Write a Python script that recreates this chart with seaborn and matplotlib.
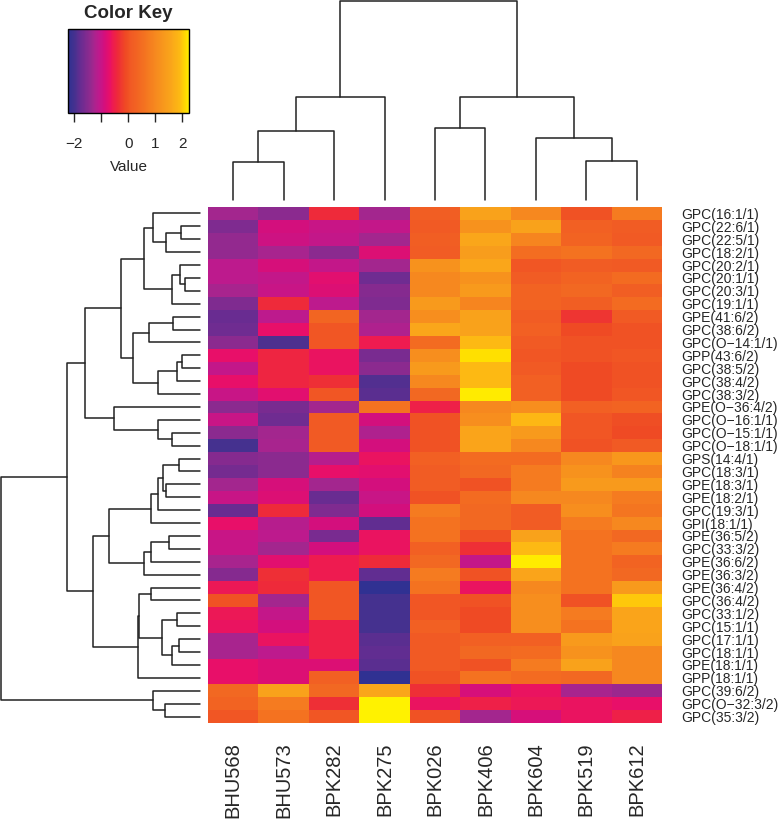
import numpy as np
import pandas as pd
import matplotlib
matplotlib.use('Agg')
import matplotlib.pyplot as plt
from matplotlib.colors import LinearSegmentedColormap
import seaborn as sns

sns.set_style('white')
plt.rcParams['font.family'] = ['Liberation Sans', 'DejaVu Sans']

# samples (columns) and lipids (rows), in dendrogram order
samples = ['BHU568', 'BHU573', 'BPK282', 'BPK275', 'BPK026',
           'BPK406', 'BPK604', 'BPK519', 'BPK612']
lipids = ['GPC(16:1/1)', 'GPC(22:6/1)', 'GPC(22:5/1)', 'GPC(18:2/1)',
          'GPC(20:2/1)', 'GPC(20:1/1)', 'GPC(20:3/1)', 'GPC(19:1/1)',
          'GPE(41:6/2)', 'GPC(38:6/2)', 'GPC(O−14:1/1)', 'GPP(43:6/2)',
          'GPC(38:5/2)', 'GPC(38:4/2)', 'GPC(38:3/2)', 'GPE(O−36:4/2)',
          'GPC(O−16:1/1)', 'GPC(O−15:1/1)', 'GPC(O−18:1/1)', 'GPS(14:4/1)',
          'GPC(18:3/1)', 'GPE(18:3/1)', 'GPE(18:2/1)', 'GPC(19:3/1)',
          'GPI(18:1/1)', 'GPE(36:5/2)', 'GPC(33:3/2)', 'GPE(36:6/2)',
          'GPE(36:3/2)', 'GPE(36:4/2)', 'GPC(36:4/2)', 'GPC(33:1/2)',
          'GPC(15:1/1)', 'GPC(17:1/1)', 'GPC(18:1/1)', 'GPE(18:1/1)',
          'GPP(18:1/1)', 'GPC(39:6/2)', 'GPC(O−32:3/2)', 'GPC(35:3/2)']

# row-scaled values
values = [
    [-1.30, -1.45, -0.40, -1.30, 0.20, 1.50, 1.00, 0.00, 0.75],
    [-1.55, -0.90, -1.00, -1.05, 0.10, 1.20, 1.50, 0.25, 0.15],
    [-1.40, -0.95, -1.05, -1.30, 0.20, 1.60, 0.95, 0.30, 0.10],
    [-1.40, -1.25, -1.45, -0.80, 0.15, 1.40, 0.50, 0.60, 0.40],
    [-1.10, -0.85, -1.05, -1.30, 1.20, 1.60, 0.05, 0.15, 0.10],
    [-1.10, -1.05, -0.75, -1.70, 1.00, 1.20, 0.15, 0.30, 0.45],
    [-1.25, -1.00, -0.80, -1.50, 1.00, 1.35, 0.30, 0.40, 0.20],
    [-1.55, -0.40, -1.10, -1.55, 1.35, 0.95, 0.30, 0.20, 0.45],
    [-1.75, -1.10, 0.35, -1.30, 1.10, 1.50, 0.15, -0.30, 0.10],
    [-1.70, -0.70, 0.05, -1.20, 1.60, 1.50, 0.25, -0.10, 0.00],
    [-1.45, -1.95, 0.05, -0.55, 0.45, 1.90, 0.10, 0.00, 0.00],
    [-0.70, -0.45, -0.65, -1.60, 1.10, 2.15, 0.05, 0.00, 0.05],
    [-1.05, -0.45, -0.65, -1.45, 1.35, 1.90, 0.10, -0.10, 0.00],
    [-0.70, -0.45, -0.35, -1.90, 1.00, 1.90, 0.25, -0.10, 0.00],
    [-1.00, -0.75, 0.05, -1.85, 0.40, 2.20, 0.25, -0.10, 0.05],
    [-1.45, -1.60, -1.30, 0.60, -0.50, 1.00, 1.10, 0.25, 0.30],
    [-1.00, -1.70, 0.10, -0.90, 0.00, 1.10, 1.85, 0.05, -0.05],
    [-1.45, -1.30, 0.10, -1.20, 0.00, 1.55, 1.35, 0.05, -0.10],
    [-2.00, -1.25, 0.10, -0.90, 0.00, 1.55, 1.00, 0.00, 0.10],
    [-1.50, -1.45, -1.15, -0.65, 0.25, 0.45, 0.45, 1.00, 1.30],
    [-1.65, -1.45, -0.70, -0.75, 0.15, 0.40, 0.75, 1.20, 0.90],
    [-1.30, -0.85, -1.30, -0.90, 0.15, 0.00, 0.75, 1.35, 1.35],
    [-1.00, -0.80, -1.75, -1.00, 0.00, 0.45, 1.00, 1.00, 0.75],
    [-1.75, -0.40, -1.55, -0.90, 0.75, 0.40, 0.15, 1.10, 0.65],
    [-0.70, -1.15, -0.90, -1.80, 0.60, 0.40, 0.15, 0.75, 1.00],
    [-1.00, -1.10, -1.60, -0.65, 0.60, 0.00, 1.50, 0.60, 0.40],
    [-1.00, -1.30, -0.90, -0.65, 0.25, -0.35, 1.90, 0.60, 0.75],
    [-1.25, -0.75, -0.55, -0.40, 0.40, -1.05, 2.20, 0.60, 0.30],
    [-1.50, -0.35, -0.55, -1.80, 0.75, 0.00, 1.55, 0.60, 0.40],
    [-0.60, -0.40, 0.05, -2.20, 0.60, -0.65, 1.00, 0.60, 1.35],
    [0.00, -1.30, 0.05, -2.00, 0.05, 0.00, 1.10, 0.00, 2.00],
    [-0.60, -1.05, 0.05, -2.00, 0.05, -0.10, 1.10, 0.75, 1.55],
    [-0.65, -0.90, -0.50, -2.00, 0.25, -0.10, 1.10, 0.60, 1.55],
    [-1.25, -0.65, -0.50, -1.85, 0.10, 0.25, 0.25, 1.35, 1.50],
    [-1.25, -1.10, -0.50, -1.80, 0.10, 0.40, 0.45, 1.20, 1.00],
    [-0.70, -0.80, -0.80, -1.85, 0.10, 0.00, 0.75, 1.50, 1.00],
    [-0.70, -0.80, 0.25, -2.20, 0.00, 0.60, 0.45, 0.40, 1.00],
    [0.40, 1.50, 0.40, 1.60, -0.35, -0.85, -0.65, -1.25, -1.35],
    [0.30, 0.75, -0.35, 2.30, -0.65, -0.50, -0.60, -0.65, -0.70],
    [0.05, 0.60, 0.05, 2.30, 0.00, -1.30, -0.85, -0.65, -0.50],
]

# cluster trees: (left, right, merge height); leaves are positions
col_tree = ((((0, 1, 38), 2, 69), 3, 103),
            ((4, 5, 72), (6, (7, 8, 39), 62), 103), 199)

row_a = ((0, ((1, 2, 19), 3, 34), 47), ((4, (5, 6, 15), 20), 7, 28), 56)
row_b = (((8, 9, 27), 10, 51), (((11, 12, 18), 13, 23), 14, 42), 67)
row_c = (15, (16, (17, 18, 28), 42), 86)
row_d = ((((19, 20, 21), (21, 22, 34), 37), 23, 42), 24, 49)
row_e = (((25, 26, 31), 27, 49), 28, 56)
row_f = (((29, 30, 49), ((31, 32, 23), ((33, 34, 21), 35, 28), 38), 61.3),
         36, 62.3)
row_g = (37, (38, 39, 35), 47)
row_tree = ((((row_a, row_b, 79), row_c, 115),
             ((row_d, row_e, 91), row_f, 107), 133), row_g, 199)

key_vals = [-2.23, -2.0, -1.75, -1.45, -1.3, -1.1, -0.9, -0.7, -0.55, -0.4,
            -0.1, 0.1, 0.35, 0.65, 1.0, 1.35, 1.6, 1.9, 2.15, 2.25]
key_cols = ['#2E3192', '#45318F', '#6A2C91', '#8C2A8F', '#A3268E', '#BE1A8D',
            '#D20F7E', '#E80F69', '#EE1C4E', '#EE2A3A', '#EF4A24', '#F15A24',
            '#F26522', '#F47520', '#F6881F', '#F89A1C', '#FAA61A', '#FDB913',
            '#FFDD00', '#FFF200']
vmin, vmax = key_vals[0], key_vals[-1]
cmap = LinearSegmentedColormap.from_list(
    'key', [((v - vmin) / (vmax - vmin), c) for v, c in zip(key_vals, key_cols)])

df = pd.DataFrame(values, index=lipids, columns=samples)

W, H = 779, 821
fig = plt.figure(figsize=(W / 100, H / 100), dpi=100)


def box(x0, y0, x1, y1):
    return [x0 / W, 1 - y1 / H, (x1 - x0) / W, (y1 - y0) / H]


ax_hm = fig.add_axes(box(208, 207, 662, 723))
ax_top = fig.add_axes(box(208, 0, 662, 200))
ax_left = fig.add_axes(box(0, 207, 200, 723))
ax_key = fig.add_axes(box(68, 29, 189, 113))

sns.heatmap(df, ax=ax_hm, cmap=cmap, vmin=vmin, vmax=vmax,
            xticklabels=samples, yticklabels=lipids,
            cbar_ax=ax_key,
            cbar_kws={'orientation': 'horizontal', 'ticks': [-2, -1, 0, 1, 2]})
ax_hm.set_xlabel('')
ax_hm.set_ylabel('')
ax_hm.yaxis.tick_right()
ax_hm.set_yticklabels(lipids, rotation=0, fontsize=10, ha='left')
ax_hm.set_xticklabels(samples, rotation=90, fontsize=14.5)
ax_hm.tick_params(axis='y', length=0, pad=14)
ax_hm.tick_params(axis='x', length=0, pad=14)


def draw_tree(ax, node, side):
    if not isinstance(node, tuple):
        return node + 0.5, 0.0
    left, right, h = node
    p1, h1 = draw_tree(ax, left, side)
    p2, h2 = draw_tree(ax, right, side)
    ps = [p1, p1, p2, p2]
    hs = [h1, h, h, h2]
    if side == 'top':
        ax.plot(ps, hs, color='#222222', lw=1.1, clip_on=False)
    else:
        ax.plot(hs, ps, color='#222222', lw=1.1, clip_on=False)
    return (p1 + p2) / 2, h


draw_tree(ax_top, col_tree, 'top')
ax_top.set_xlim(0, len(samples))
ax_top.set_ylim(0, 200)
ax_top.axis('off')

draw_tree(ax_left, row_tree, 'left')
ax_left.set_ylim(len(lipids), 0)
ax_left.set_xlim(200, 0)
ax_left.axis('off')

cbar = ax_hm.collections[0].colorbar
cbar.outline.set_edgecolor('black')
cbar.outline.set_linewidth(1)
cbar.set_ticks([-2, -1, 0, 1, 2])
cbar.set_ticklabels(['−2', '', '0', '1', '2'])
ax_key.tick_params(axis='x', length=6.5, width=1, labelsize=11, pad=11,
                   direction='out', bottom=True)
ax_key.set_xlabel('Value', fontsize=11, labelpad=6)
fig.text(128 / W, 1 - 13 / H, 'Color Key', ha='center', va='center',
         fontsize=13.5, fontweight='bold')

fig.savefig('out.png', dpi=100)
